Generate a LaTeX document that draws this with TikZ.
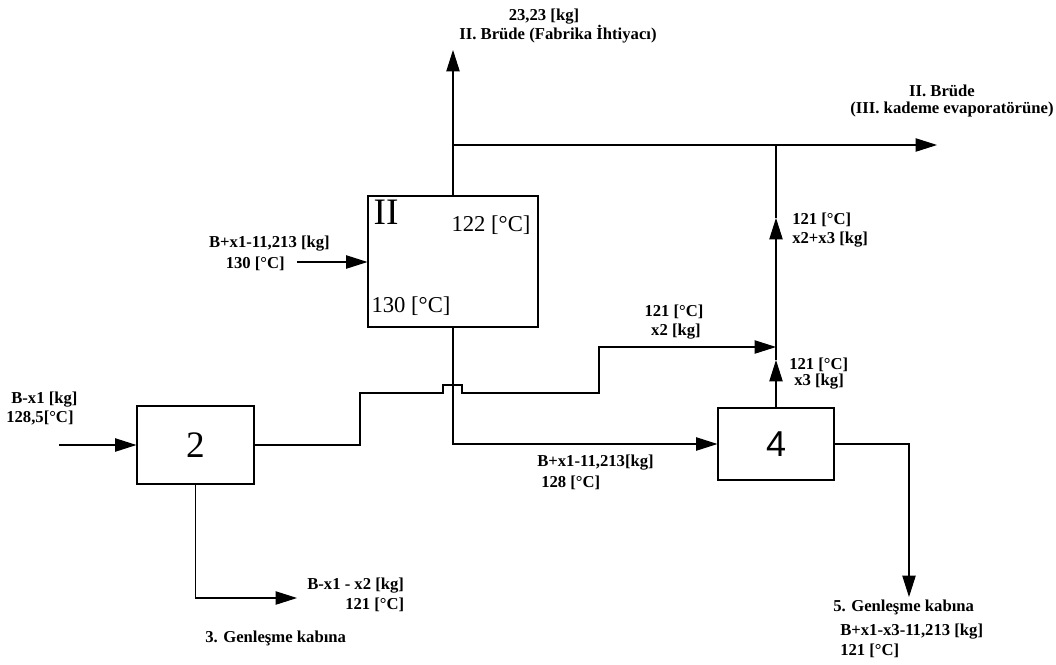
\documentclass[tikz,border=0pt]{standalone}
\usepackage{fontspec}
\setmainfont{Liberation Serif}
\newfontfamily\sansf{Liberation Sans}
\usetikzlibrary{arrows.meta}
\begin{document}
\begin{tikzpicture}[x=0.75pt,y=-0.75pt,
  flow/.style={line width=0.8pt, draw=black},
  arr/.style={flow,-{Triangle[length=16pt,width=10pt]}},
  unit/.style={draw=black, line width=0.8pt, inner sep=0pt},
  lbl/.style={font=\bfseries\fontsize{12.5}{14}\selectfont, inner sep=0pt},
  boxtxt/.style={font=\fontsize{17}{19}\selectfont, inner sep=0pt}]
\useasboundingbox (0,0) rectangle (1056,664);

% units
\node[unit, minimum width=127.5pt, minimum height=98.25pt] (bII) at (453,261.5) {};
\node[unit, minimum width=87.75pt, minimum height=58.5pt, font=\fontsize{28}{30}\selectfont] (b2) at (195.5,445) {2};
\node[unit, minimum width=87pt, minimum height=54pt, font=\sansf\fontsize{27}{30}\selectfont] (b4) at (776,444) {4};

% texts inside box II
\node[font=\fontsize{28}{30}\selectfont, inner sep=0pt] (tII) at (386,212) {II};
\node[boxtxt] (t122) at (491,225) {122 [°C]};
\node[boxtxt] (t130) at (411,306) {130 [°C]};

% coordinates
\coordinate (in2) at (59,445);
\coordinate (inII) at (297,262);
\coordinate (top) at (453,50);
\coordinate (tj) at (453,145);
\coordinate (rt) at (937,145);
\coordinate (vt) at (776,145);
\coordinate (j) at (776,347);
\coordinate (a1) at (776,218);
\coordinate (a3) at (776,360);
\coordinate (out3) at (297,598);
\coordinate (out5) at (909,597);

% connectors
\draw[arr] (in2) -- (b2.west);
\draw[arr] (inII) -- (inII -| bII.west);
\draw[arr] (bII.north) -- (top);
\draw[arr] (tj) -- (rt);
\draw[arr] (b4.north) -- (a3);
\draw[flow] (a3) -- (j);
\draw[arr] (j) -- (a1);
\draw[flow] (a1) -- (vt);
\draw[arr] (b2.east) -- (360,445) -- (360,393) -- (443,393) -- (443,385) -- (462,385) -- (462,393) -- (599,393) -- (599,347) -- (j);
\draw[arr] (bII.south) |- (b4.west);
\draw[arr] (b4.east) -| (out5);
\draw[arr] (b2.south) |- (out3);

% labels
\node[lbl] (l1) at (544,17) {23,23 [kg]};
\node[lbl] (l2) at (558,34) {II. Brüde (Fabrika İhtiyacı)};
\node[lbl] (l3) at (942,91) {II. Brüde};
\node[lbl] (l4) at (952,109) {(III. kademe evaporatörüne)};
\node[lbl, anchor=east] (l5) at (330,244) {B+x1-11,213 [kg]};
\node[lbl, anchor=east] (l6) at (285,264) {130 [°C]};
\node[lbl, anchor=west] (l7) at (792,220) {121 [°C]};
\node[lbl, anchor=west] (l8) at (792,240) {x2+x3 [kg]};
\node[lbl] (l9) at (674,312) {121 [°C]};
\node[lbl] (l10) at (676,332) {x2 [kg]};
\node[lbl, anchor=west] (l11) at (789,365) {121 [°C]};
\node[lbl, anchor=west] (l12) at (794,382) {x3 [kg]};
\node[lbl, anchor=west] (l13) at (11,400) {B-x1 [kg]};
\node[lbl, anchor=west] (l14) at (6,418) {128,5[°C]};
\node[lbl, anchor=west] (l15) at (537,463) {B+x1-11,213[kg]};
\node[lbl, anchor=west] (l16) at (541,483) {128 [°C]};
\node[lbl, anchor=west] (l17) at (307,586) {B-x1 - x2 [kg]};
\node[lbl, anchor=west] (l18) at (345,605) {121 [°C]};
\node[lbl, anchor=west] (l19) at (205,638) {3. Genleşme kabına};
\node[lbl, anchor=west] (l20) at (833,607) {5. Genleşme kabına};
\node[lbl, anchor=west] (l21) at (840,632) {B+x1-x3-11,213 [kg]};
\node[lbl, anchor=west] (l22) at (840,651) {121 [°C]};
\end{tikzpicture}
\end{document}
